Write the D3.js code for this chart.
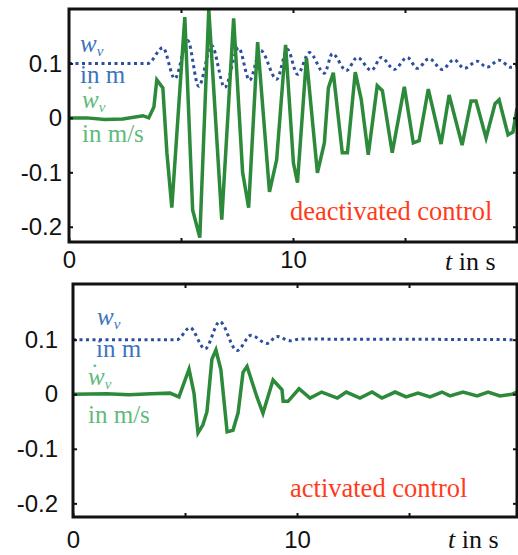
<!DOCTYPE html>
<html><head><meta charset="utf-8">
<script src="https://cdn.jsdelivr.net/npm/d3@7"></script>
<style>body{margin:0;background:#fff}svg{display:block}</style>
</head><body>
<svg id="c" width="518" height="555"></svg>
<script>
// ---- data ----
const topVelT = [0,0.8,1.6,2.4,3.3,3.56,3.79,3.92,4.19,4.37,4.59,5.17,5.52,5.84,6.24,6.82,7.35,7.75,8.02,8.42,8.95,9.27,9.67,10.02,10.2,10.6,11.09,11.4,11.58,11.8,12.2,12.43,12.78,13.05,13.36,13.76,13.99,14.43,14.97,15.37,15.63,16.04,16.61,16.97,17.55,17.95,18.17,18.62,19.02,19.2,19.6,19.82,20.0];
const topVel  = [0,0,-0.003,-0.002,0.004,0,0.02,0.07,0.055,-0.064,-0.165,0.185,-0.169,-0.22,0.2,-0.187,0.183,-0.1,-0.165,0.139,-0.136,-0.077,0.134,-0.083,-0.119,0.11,-0.101,-0.046,0.055,0.083,-0.064,-0.064,0.084,0.033,-0.068,0.059,0.05,-0.064,0.057,-0.046,-0.042,0.053,-0.048,0.042,-0.05,0.031,0.031,-0.037,0.026,0.033,-0.031,-0.026,0.018];
const topDispT = [0,3.52,4.19,4.72,5.3,5.79,6.37,6.95,7.57,8.06,8.55,9.27,9.75,10.2,10.73,11.4,11.76,12.38,12.87,13.5,13.94,14.52,15.1,15.55,16.08,16.66,17.19,17.64,18.22,18.66,19.2,19.73,20];
const topDisp  = [0.1,0.1,0.129,0.072,0.142,0.058,0.133,0.056,0.129,0.069,0.124,0.071,0.126,0.080,0.120,0.082,0.118,0.087,0.111,0.087,0.111,0.089,0.111,0.091,0.109,0.089,0.107,0.091,0.104,0.093,0.106,0.093,0.096];

const botVelT = [0,1.5,2.5,3.5,4.33,4.73,5.18,5.4,5.58,5.8,5.98,6.2,6.38,6.6,6.88,7.14,7.37,7.59,7.77,8.21,8.48,8.93,9.33,9.38,9.6,10.09,10.58,11.1,11.8,12.2,12.81,13.35,13.79,14.38,14.87,15.4,15.94,16.47,16.83,17.41,18.04,18.53,19.06,19.6,19.82];
const botVel  = [0,0.001,-0.001,0.001,0.002,-0.005,0.046,0.002,-0.071,-0.056,-0.032,0.064,0.081,0.045,-0.069,-0.066,-0.034,0.04,0.051,-0.005,-0.035,0.026,0.008,-0.013,-0.013,0.01,-0.007,0.004,-0.007,0.004,-0.007,0.004,-0.007,0.004,-0.005,0.002,-0.005,0.004,-0.003,0.004,-0.003,0.004,-0.003,0.0,0.004];
const botDispT = [0,4.64,5.22,5.89,6.55,7.32,7.95,8.66,9.1,9.7,10.1,19.82];
const botDisp  = [0.1,0.1,0.122,0.083,0.133,0.08,0.108,0.093,0.106,0.098,0.101,0.1];

const yTickVals = [0.1, 0, -0.1, -0.2];
const yTickLabels = ["0.1", "0", "-0.1", "-0.2"];
const xTickVals = [0, 5, 10, 15, 20];
const xTickLabels = {0: "0", 10: "10"};

const panelTitles = ["deactivated control", "activated control"];

// ---- drawing ----
const svg = d3.select("#c");
const GREEN = "#2d8a3b", BLUE = "#2b4f9e", LBLUE = "#3a74bd", LGREEN = "#5fba7d", RED = "#ff3b1c";
const SANS = "'Liberation Sans', Arial, sans-serif";
const SERIF = "'Liberation Serif', 'Times New Roman', serif";

const panels = [
  {id:"p1", x0:69, x1:517, y0:9, y1:242, xmax:20, ydom:[-0.228,0.2], velT:topVelT, vel:topVel, dispT:topDispT, disp:topDisp,
   ylabEnd:62, xPad:9, title:panelTitles[0],
   lab:{bw:[80,52], bm:[80,83], gdot:[87,89], gw:[82,108], gm:[82,142], title:[290,220], t:[445,270]}},
  {id:"p2", x0:73, x1:517, y0:284, y1:517, xmax:19.82, ydom:[-0.225,0.202], velT:botVelT, vel:botVel, dispT:botDispT, disp:botDisp,
   ylabEnd:58, xPad:14, title:panelTitles[1],
   lab:{bw:[97,325], bm:[96,357], gdot:[92,367], gw:[88,385], gm:[88,423], title:[290,497], t:[448,548]}}
];

panels.forEach(p => {
  const x = d3.scaleLinear().domain([0, p.xmax]).range([p.x0, p.x1]);
  const y = d3.scaleLinear().domain(p.ydom).range([p.y1, p.y0]);
  const g = svg.append("g");

  svg.append("defs").append("clipPath").attr("id", "clip"+p.id)
    .append("rect").attr("x", p.x0).attr("y", p.y0).attr("width", p.x1-p.x0).attr("height", p.y1-p.y0);

  const lab = p.lab;
  // stacked series labels as one text block
  const L = g.append("text").attr("font-family", SERIF).attr("font-size", 25);
  L.append("tspan").attr("x", lab.bw[0]).attr("y", lab.bw[1]).attr("fill", LBLUE).attr("font-style", "italic").text("w");
  L.append("tspan").attr("fill", LBLUE).attr("font-style", "italic").attr("font-size", 15).attr("dy", 4).text("v");
  L.append("tspan").attr("x", lab.bm[0]).attr("y", lab.bm[1]).attr("fill", LBLUE).text("in m");
  L.append("tspan").attr("x", lab.gdot[0]).attr("y", lab.gdot[1]).attr("fill", LGREEN).attr("font-size", 22).text(".");
  L.append("tspan").attr("x", lab.gw[0]).attr("y", lab.gw[1]).attr("fill", LGREEN).attr("font-style", "italic").text("w");
  L.append("tspan").attr("fill", LGREEN).attr("font-style", "italic").attr("font-size", 15).attr("dy", 4).text("v");
  L.append("tspan").attr("x", lab.gm[0]).attr("y", lab.gm[1]).attr("fill", LGREEN).text("in m/s");

  g.append("text").attr("x", lab.title[0]).attr("y", lab.title[1]).attr("font-family", SERIF).attr("font-size", 26.5)
    .attr("fill", RED).text(p.title);

  // lines
  const dispData = p.dispT.map((t,i)=>[t, p.disp[i]]);
  const velData = p.velT.map((t,i)=>[t, p.vel[i]]);
  const lineC = d3.line().x(d=>x(d[0])).y(d=>y(d[1])).curve(d3.curveMonotoneX);
  const lineL = d3.line().x(d=>x(d[0])).y(d=>y(d[1]));
  const lines = g.append("g").attr("clip-path", "url(#clip"+p.id+")");
  lines.append("path").attr("d", lineC(dispData)).attr("fill", "none").attr("stroke", BLUE)
    .attr("stroke-width", 3).attr("stroke-dasharray", "3,3.5");
  lines.append("path").attr("d", lineL(velData)).attr("fill", "none").attr("stroke", GREEN)
    .attr("stroke-width", 3.5).attr("stroke-linejoin", "miter");

  // axes
  const yAx = d3.axisLeft(y).tickValues(yTickVals).tickFormat((d,i)=>yTickLabels[i]).tickSize(-4).tickPadding(p.x0 - p.ylabEnd);
  const ya = g.append("g").attr("transform", `translate(${p.x0},0)`).call(yAx);
  const xAx = d3.axisBottom(x).tickValues(xTickVals.filter(v=>v<=p.xmax)).tickFormat(d=>xTickLabels[d]||"").tickSize(-4).tickPadding(p.xPad);
  const xa = g.append("g").attr("transform", `translate(0,${p.y1})`).call(xAx);
  const xt = g.append("g").attr("transform", `translate(0,${p.y0})`).call(d3.axisTop(x).tickValues(xTickVals.filter(v=>v>0&&v<p.xmax)).tickFormat("").tickSize(-4));
  const yr = g.append("g").attr("transform", `translate(${p.x1},0)`).call(d3.axisRight(y).tickValues(yTickVals).tickFormat("").tickSize(-4));
  [ya, xa, xt, yr].forEach(a => {
    a.select(".domain").remove();
    a.selectAll("line").attr("stroke", "#111").attr("stroke-width", 2);
    a.selectAll("text").attr("font-family", SANS).attr("font-size", 24).attr("fill", "#111");
  });

  // frame
  g.append("rect").attr("x", p.x0).attr("y", p.y0).attr("width", p.x1-p.x0).attr("height", p.y1-p.y0)
    .attr("fill", "none").attr("stroke", "#111").attr("stroke-width", 3);

  // x-axis title
  const tt = g.append("text").attr("x", lab.t[0]).attr("y", lab.t[1]).attr("font-family", SERIF).attr("font-size", 26).attr("fill", "#111");
  tt.append("tspan").attr("font-style", "italic").text("t");
  tt.append("tspan").text(" in s");
});
</script>
</body></html>
